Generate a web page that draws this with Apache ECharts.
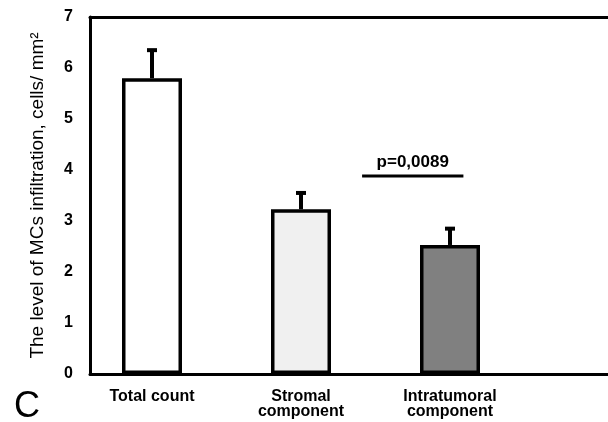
<!DOCTYPE html>
<html>
<head>
<meta charset="utf-8">
<script src="https://cdn.jsdelivr.net/npm/echarts@6/dist/echarts.min.js"></script>
<style>
  html, body { margin: 0; padding: 0; background: #fff; }
  #chart { width: 608px; height: 422px; }
</style>
</head>
<body>
<div id="chart"></div>
<script>
// values
var categories = ['Total count', 'Stromal\ncomponent', 'Intratumoral\ncomponent'];
var means = [5.80, 3.23, 2.53];
var errTops = [6.35, 3.55, 2.85];
var barColors = ['#ffffff', '#f0f0f0', '#808080'];
var yTicks = [0, 7, 1]; // min, max, step
// significance bar between stromal and intratumoral (category index units)
var pLine = [1.41, 2.09, 3.88];
var pText = 'p=0,0089';

var font = 'Liberation Sans, Arial, sans-serif';
var chart = echarts.init(document.getElementById('chart'));

var barData = means.map(function (v, i) {
    return { value: v, itemStyle: { color: barColors[i] } };
});
var errData = means.map(function (v, i) {
    return [i, v, errTops[i]];
});
var frameLine = { show: true, lineStyle: { color: '#000', width: 3 } };

var option = {
    animation: false,
    backgroundColor: '#fff',
    title: {
        text: 'C', left: 9, top: 384,
        textStyle: { fontFamily: font, fontSize: 36, fontWeight: 'normal', color: '#000' }
    },
    grid: [
        // frame grid with the y axis, open on the right
        { left: 90, top: 17, right: 0, bottom: 48 },
        // grid holding the bars
        { left: 77.5, width: 447, top: 17, bottom: 48 }
    ],
    xAxis: [
        { type: 'category', gridIndex: 0, position: 'bottom', data: categories, axisLine: frameLine, axisTick: { show: false }, axisLabel: { show: false } },
        { type: 'category', gridIndex: 0, position: 'top', data: categories, axisLine: frameLine, axisTick: { show: false }, axisLabel: { show: false } },
        {
            type: 'category', gridIndex: 1, data: categories,
            axisLine: { show: false }, axisTick: { show: false },
            axisLabel: { fontFamily: font, fontSize: 16, fontWeight: 'bold', color: '#000', margin: 15, lineHeight: 15, interval: 0 }
        }
    ],
    yAxis: [
        {
            type: 'value', gridIndex: 0, min: yTicks[0], max: yTicks[1], interval: yTicks[2],
            name: 'The level of MCs infiltration, cells/ mm²', nameLocation: 'middle', nameGap: 43,
            nameTextStyle: { fontFamily: font, fontSize: 19, color: '#000' },
            axisLine: frameLine, axisTick: { show: false }, splitLine: { show: false },
            axisLabel: { fontFamily: font, fontSize: 16, fontWeight: 'bold', color: '#000', margin: 17 }
        },
        { type: 'value', gridIndex: 1, min: yTicks[0], max: yTicks[1], show: false }
    ],
    series: [
        {
            type: 'bar', xAxisIndex: 2, yAxisIndex: 1, barWidth: 60,
            data: barData,
            itemStyle: { borderColor: '#000', borderWidth: 3.5 }
        },
        {
            type: 'custom', xAxisIndex: 2, yAxisIndex: 1, z: 1,
            data: errData,
            renderItem: function (params, api) {
                var lo = api.coord([api.value(0), api.value(1)]);
                var hi = api.coord([api.value(0), api.value(2)]);
                var st = { stroke: '#000', lineWidth: 4 };
                return {
                    type: 'group',
                    children: [
                        { type: 'line', shape: { x1: lo[0], y1: lo[1], x2: hi[0], y2: hi[1] }, style: st },
                        { type: 'line', shape: { x1: hi[0] - 5, y1: hi[1], x2: hi[0] + 5, y2: hi[1] }, style: st }
                    ]
                };
            }
        },
        {
            type: 'custom', xAxisIndex: 2, yAxisIndex: 1,
            data: [pLine],
            renderItem: function (params, api) {
                var band = api.size([1, 0])[0];
                function px(v, y) {
                    var f = Math.floor(v);
                    var p = api.coord([f, y]);
                    return [p[0] + (v - f) * band, p[1]];
                }
                var a = px(api.value(0), api.value(2));
                var b = px(api.value(1), api.value(2));
                return {
                    type: 'group',
                    children: [
                        { type: 'line', shape: { x1: a[0], y1: a[1], x2: b[0], y2: b[1] }, style: { stroke: '#000', lineWidth: 3 } },
                        {
                            type: 'text', x: (a[0] + b[0]) / 2, y: a[1] - 5,
                            style: { text: pText, align: 'center', verticalAlign: 'bottom', font: 'bold 17px ' + font, fill: '#000' }
                        }
                    ]
                };
            }
        }
    ]
};
chart.setOption(option);
</script>
</body>
</html>
